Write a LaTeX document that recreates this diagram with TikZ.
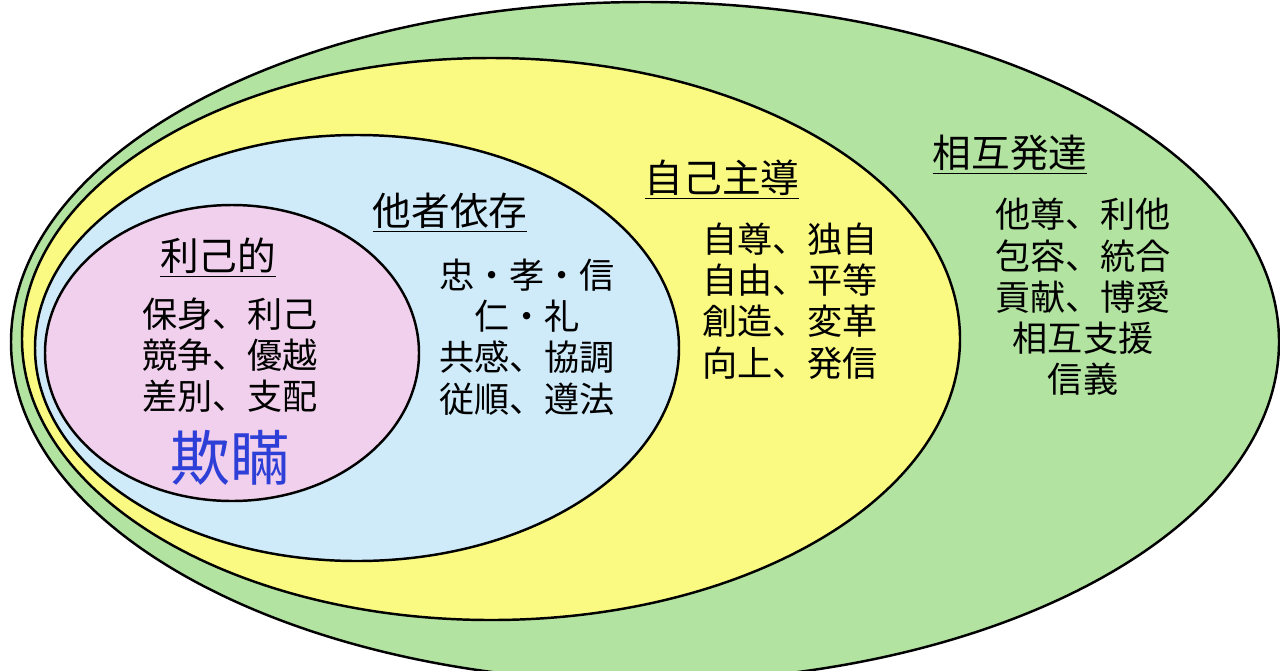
\documentclass[tikz,border=0pt]{standalone}
\usepackage{fontspec}
\setmainfont{Noto Sans CJK JP}
\definecolor{grn}{HTML}{B3E3A0}
\definecolor{ylw}{HTML}{FAFA82}
\definecolor{blu}{HTML}{CFEBFA}
\definecolor{pnk}{HTML}{F0D0EC}
\definecolor{deceit}{HTML}{2E3FD8}
\tikzset{
  ring/.style={draw=black, line width=1.4pt},
  head/.style={font=\fontsize{22}{24}\selectfont, inner sep=0pt},
  words/.style={font=\fontsize{20}{23.5}\selectfont, align=center, inner sep=0pt}
}
\newcommand{\uline}[1]{\underline{#1}}
\begin{document}
\begin{tikzpicture}[x=0.02cm, y=-0.02cm]
\useasboundingbox (0,0) rectangle (1280,670);
\fill[white] (0,0) rectangle (1280,670);
\begin{scope}
\clip (0,0) rectangle (1280,670);
\draw[ring, fill=grn] (645,342) ellipse (634 and 340);
\draw[ring, fill=ylw] (491,339) ellipse (469 and 281);
\draw[ring, fill=blu] (357,348) ellipse (322 and 213);
\draw[ring, fill=pnk] (232,353) ellipse (187 and 148);
\end{scope}
% inner ring
\node[head] (egoist) at (218,258) {\uline{利己的}};
\node[words] (egoistw) at (230,355) {保身、利己\\競争、優越\\差別、支配};
\node[font=\fontsize{34}{36}\selectfont, text=deceit, inner sep=0pt] (deceit) at (230,458) {欺瞞};
% dependent
\node[head] (depend) at (450,213) {\uline{他者依存}};
\node[words] (dependw) at (527,337) {忠・孝・信\\仁・礼\\共感、協調\\従順、遵法};
% self-directed
\node[head] (selfdir) at (722,180) {\uline{自己主導}};
\node[words] (selfdirw) at (790,301) {自尊、独自\\自由、平等\\創造、変革\\向上、発信};
% mutual
\node[head] (mutual) at (1010,155) {\uline{相互発達}};
\node[words] (mutualw) at (1083,297) {他尊、利他\\包容、統合\\貢献、博愛\\相互支援\\信義};
\end{tikzpicture}
\end{document}
